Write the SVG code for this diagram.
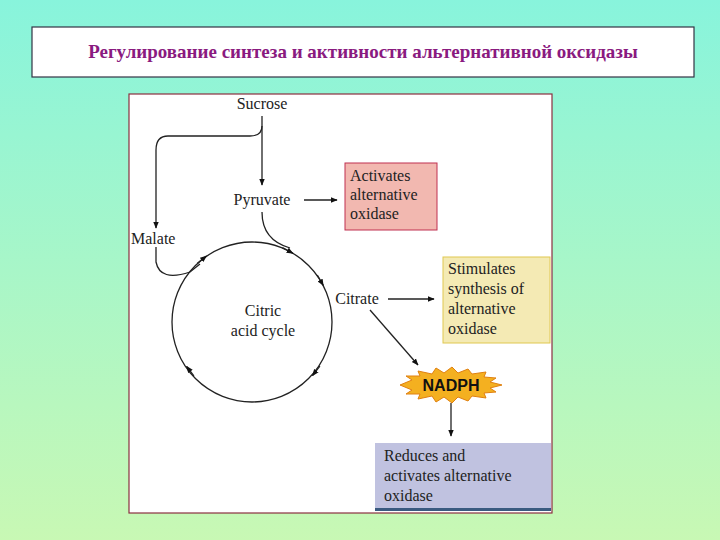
<svg xmlns="http://www.w3.org/2000/svg" width="720" height="540" viewBox="0 0 720 540">
<defs>
<linearGradient id="bg" x1="0" y1="0" x2="0" y2="1"><stop offset="0" stop-color="#88f4dc"/><stop offset="1" stop-color="#c8f8b4"/></linearGradient>
<marker id="ah" viewBox="0 0 10 10" refX="9" refY="5" markerWidth="7" markerHeight="7" orient="auto" markerUnits="userSpaceOnUse"><path d="M0,1 L10,5 L0,9 z" fill="#111"/></marker>
</defs>
<style>
.t{font-family:"Liberation Serif",serif;font-size:16px;fill:#222}
.c{fill:none;stroke:#222;stroke-width:1.3}
</style>
<rect width="720" height="540" fill="url(#bg)"/>
<g id="title"><rect x="32" y="27" width="662" height="50" fill="#fff" stroke="#334" stroke-width="1.2"/>
<text x="363" y="58" text-anchor="middle" font-family="Liberation Serif,serif" font-weight="bold" font-size="19" fill="#8a1a80">Регулирование синтеза и активности альтернативной оксидазы</text></g>
<rect x="129" y="94" width="423" height="419" fill="#fff" stroke="#8a3040" stroke-width="1.2"/>
<g id="connectors">
<path class="c" d="M262,116 V185" marker-end="url(#ah)"/>
<path class="c" d="M262,126 Q262,136 250,136 H168 Q156,136 156,150 V228" marker-end="url(#ah)"/>
<path class="c" d="M304,200 H337" marker-end="url(#ah)"/>
<path class="c" d="M262,212 Q262,240 290,248"/>
<path class="c" d="M156,247 V262 Q160,282 190,272 L200,264"/>
<path class="c" d="M388,299 H434" marker-end="url(#ah)"/>
<path class="c" d="M370,310 L418,365" marker-end="url(#ah)"/>
<path class="c" d="M451,403 V436" marker-end="url(#ah)"/>
<circle class="c" cx="252" cy="322" r="80"/>
<path class="c" d="M282.4,247.6 L293,253.3" marker-end="url(#ah)"/>
<path class="c" d="M317.3,275.1 L323.3,285.5" marker-end="url(#ah)"/>
<path class="c" d="M319.9,366.1 L312.5,375.6" marker-end="url(#ah)"/>
<path class="c" d="M193.9,375.9 L186.6,366.4" marker-end="url(#ah)"/>
<path class="c" d="M197.1,263.4 L206.5,256" marker-end="url(#ah)"/>
</g>
<g id="sucrose"><text class="t" x="262" y="109" text-anchor="middle">Sucrose</text></g>
<g id="pyruvate"><text class="t" x="262" y="205" text-anchor="middle">Pyruvate</text></g>
<g id="malate"><text class="t" x="131" y="244">Malate</text></g>
<g id="citrate"><text class="t" x="357" y="304" text-anchor="middle">Citrate</text></g>
<g id="cycle"><text class="t" x="263" y="316" text-anchor="middle">Citric</text><text class="t" x="263" y="336" text-anchor="middle">acid cycle</text></g>
<g id="activates"><rect x="345" y="163" width="92" height="67" fill="#f2b8b0" stroke="#c03050" stroke-width="1"/>
<text class="t" x="350" y="181">Activates</text><text class="t" x="350" y="200">alternative</text><text class="t" x="350" y="219">oxidase</text></g>
<g id="stimulates"><rect x="443" y="257" width="107" height="86" fill="#f4eab4" stroke="#e0c850" stroke-width="1"/>
<text class="t" x="448" y="274">Stimulates</text><text class="t" x="448" y="294">synthesis of</text><text class="t" x="448" y="314">alternative</text><text class="t" x="448" y="334">oxidase</text></g>
<g id="nadph"><polygon fill="#f4b020" stroke="#e08010" stroke-width="1" points="400,385 412,380 406,376 420,376 418,371 432,374 436,368 444,373 452,367 458,373 468,369 472,374 486,372 484,377 496,378 490,382 502,385 490,388 496,392 484,393 486,398 472,396 468,401 458,397 452,403 444,397 436,402 432,396 418,399 420,394 406,394 412,390"/>
<text x="451" y="391" text-anchor="middle" font-family="Liberation Sans,sans-serif" font-weight="bold" font-size="16" fill="#111">NADPH</text></g>
<g id="reduces"><rect x="375" y="443" width="176" height="67" fill="#c0c2e0"/><rect x="375" y="508" width="176" height="3" fill="#3a5a80"/>
<text class="t" x="384" y="461">Reduces and</text><text class="t" x="384" y="481">activates alternative</text><text class="t" x="384" y="501">oxidase</text></g>
</svg>
